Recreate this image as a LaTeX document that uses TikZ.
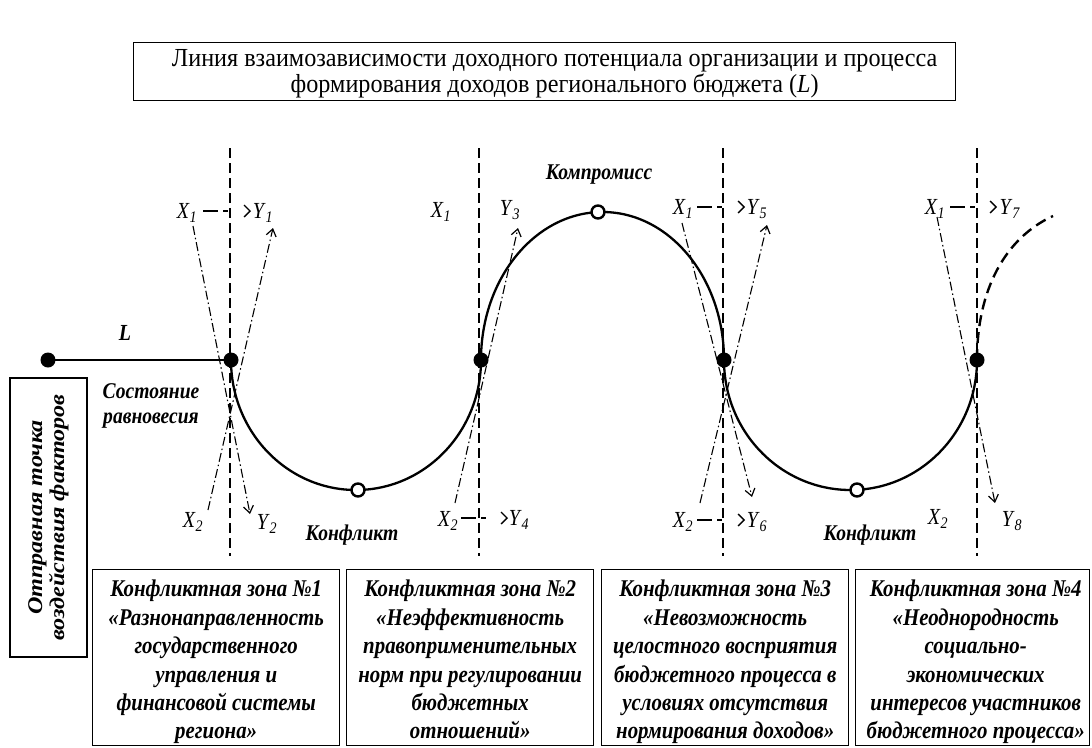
\documentclass[tikz,border=0pt]{standalone}
\usepackage{fontspec}
\setmainfont{Liberation Serif}
\newfontfamily\condf[FakeStretch=0.87]{Liberation Serif}
\newfontfamily\titlef[FakeStretch=0.93]{Liberation Serif}
\newfontfamily\widef[FakeStretch=1.15]{Liberation Serif}
\usetikzlibrary{arrows.meta}
\newcommand{\xl}[2]{\textit{#1}\textsubscript{\textit{#2}}}
\tikzset{
 vline/.style={line width=2.4pt, dash pattern=on 10pt off 5pt},
 curveline/.style={line width=2.3pt},
 contline/.style={line width=2.4pt, dash pattern=on 11pt off 6pt},
 ddline/.style={line width=1.1pt, dash pattern=on 9pt off 3pt on 1.5pt off 3pt, -{Straight Barb[length=7pt,width=10pt,line width=1.2pt]}},
 harrow/.style={line width=1.3pt, dash pattern=on 15pt off 5pt on 5pt off 40pt, -{Straight Barb[length=6pt,width=12pt,line width=1.3pt]}},
 lbl/.style={font=\condf\fontsize{23}{24}\selectfont, inner sep=0pt},
 blbl/.style={font=\condf\fontsize{22.5}{25}\selectfont\bfseries\itshape, inner sep=0pt, align=center},
 zone/.style={draw, line width=1.4pt, minimum width=247pt, minimum height=176pt, anchor=north west, inner sep=0pt},
 zonetext/.style={align=center, font=\condf\fontsize{24}{28.4}\selectfont\bfseries\itshape, inner sep=0pt, anchor=north, yshift=-11pt},
 dotf/.style={circle, fill=black, minimum size=15pt, inner sep=0pt},
 doto/.style={circle, draw, fill=white, line width=2.4pt, minimum size=13pt, inner sep=0pt},
}
\begin{document}
\begin{tikzpicture}[x=1pt,y=-1pt]
\useasboundingbox (0,0) rectangle (1092,747);
% title
\node[draw, line width=1.4pt, minimum width=822pt, minimum height=58pt, anchor=north west, inner sep=0pt] (title) at (133,42) {};
\node[align=center, inner sep=0pt, font=\titlef\fontsize{26}{23}\selectfont] (titletext) at ([xshift=10pt,yshift=-2pt]title.center)
 {Линия взаимозависимости доходного потенциала организации и процесса\\ формирования доходов регионального бюджета (\textit{L})};
% vertical dashed lines
\coordinate (v1t) at (230,148); \coordinate (v1b) at (230,556);
\coordinate (v2t) at (479,148); \coordinate (v2b) at (479,556);
\coordinate (v3t) at (723,148); \coordinate (v3b) at (723,556);
\coordinate (v4t) at (977,148); \coordinate (v4b) at (977,556);
\draw[vline] (v1t) -- (v1b);
\draw[vline] (v2t) -- (v2b);
\draw[vline] (v3t) -- (v3b);
\draw[vline] (v4t) -- (v4b);
% curve
\coordinate (p0) at (48,360);
\coordinate (p1) at (231,360);
\coordinate (p2) at (481,360);
\coordinate (p3) at (724,360);
\coordinate (p4) at (977,360);
\coordinate (pend) at (1053,216);
\draw[curveline] (p0) -- (p1);
\draw[curveline] (p1) arc[start angle=180, end angle=0, x radius=125, y radius=130];
\draw[curveline] (p2) arc[start angle=180, end angle=360, x radius=121.5, y radius=148];
\draw[curveline] (p3) arc[start angle=180, end angle=0, x radius=126.5, y radius=130];
\draw[contline] (p4) .. controls (977,290) and (1005,238) .. (pend);
% dots
\node[dotf] (d0) at (p0) {};
\node[dotf] (d1) at (p1) {};
\node[dotf] (d2) at (p2) {};
\node[dotf] (d3) at (p3) {};
\node[dotf] (d4) at (p4) {};
\node[doto] (c1) at (358,490) {};
\node[doto] (c2) at (598,212) {};
\node[doto] (c3) at (857,490) {};
% labels
\node[blbl, font=\condf\fontsize{23}{22}\selectfont\bfseries\itshape] (Lab) at (125,333) {L};
\node[blbl] (eq) at (151,406) {Состояние\\равновесия};
\node[blbl] (komp) at (599,175) {Компромисс};
\node[blbl] (konf1) at (352,535) {Конфликт};
\node[blbl] (konf2) at (870,535) {Конфликт};
% group 1
\node[lbl] (g1x1) at (187,213) {\xl{X}{1}};
\node[lbl] (g1y1) at (263,213) {\xl{Y}{1}};
\node[lbl] (g1x2) at (193,522) {\xl{X}{2}};
\node[lbl] (g1y2) at (267,524) {\xl{Y}{2}};
\coordinate (a1s) at (193,226); \coordinate (a1e) at (250,514);
\coordinate (b1s) at (208,510); \coordinate (b1e) at (273,228);
\coordinate (h1s) at (203,211); \coordinate (h1e) at (251,211);
\draw[ddline] (a1s) -- (a1e);
\draw[ddline] (b1s) -- (b1e);
\draw[harrow] (h1s) -- (h1e);
% group 2
\node[lbl] (g2x1) at (441,212) {\xl{X}{1}};
\node[lbl] (g2y3) at (510,210) {\xl{Y}{3}};
\node[lbl] (g2x2) at (448,521) {\xl{X}{2}};
\node[lbl] (g2y4) at (519,520) {\xl{Y}{4}};
\coordinate (b2s) at (455,503); \coordinate (b2e) at (518,228);
\coordinate (h2s) at (461,518); \coordinate (h2e) at (508,518);
\draw[ddline] (b2s) -- (b2e);
\draw[harrow] (h2s) -- (h2e);
% group 3
\node[lbl] (g3x1) at (683,209) {\xl{X}{1}};
\node[lbl] (g3y5) at (757,209) {\xl{Y}{5}};
\node[lbl] (g3x2) at (683,522) {\xl{X}{2}};
\node[lbl] (g3y6) at (757,522) {\xl{Y}{6}};
\coordinate (a3s) at (682,223); \coordinate (a3e) at (752,497);
\coordinate (b3s) at (700,503); \coordinate (b3e) at (767,225);
\coordinate (h3s) at (697,207); \coordinate (h3e) at (745,207);
\coordinate (k3s) at (697,520); \coordinate (k3e) at (745,520);
\draw[ddline] (a3s) -- (a3e);
\draw[ddline] (b3s) -- (b3e);
\draw[harrow] (h3s) -- (h3e);
\draw[harrow] (k3s) -- (k3e);
% group 4
\node[lbl] (g4x1) at (935,209) {\xl{X}{1}};
\node[lbl] (g4y7) at (1010,209) {\xl{Y}{7}};
\node[lbl] (g4x2) at (938,519) {\xl{X}{2}};
\node[lbl] (g4y8) at (1012,521) {\xl{Y}{8}};
\coordinate (a4s) at (937,217); \coordinate (a4e) at (995,503);
\coordinate (h4s) at (950,207); \coordinate (h4e) at (997,207);
\draw[ddline] (a4s) -- (a4e);
\draw[harrow] (h4s) -- (h4e);
% left box
\node[draw, line width=1.4pt, minimum width=279pt, minimum height=77pt, rotate=90, align=center, inner sep=0pt, font=\widef\fontsize{21}{22}\selectfont\bfseries\itshape] (start) at (48.5,517.5)
 {Отправная точка\\воздействия факторов};
% zone boxes
\node[zone] (z1) at (92,569) {};
\node[zone] (z2) at (346,569) {};
\node[zone] (z3) at (601,569) {};
\node[zone, minimum width=234pt] (z4) at (855,569) {};
\node[zonetext] (t1) at (z1.north) {Конфликтная зона №1\\«Разнонаправленность\\государственного\\управления и\\финансовой системы\\региона»};
\node[zonetext] (t2) at (z2.north) {Конфликтная зона №2\\«Неэффективность\\правоприменительных\\норм при регулировании\\бюджетных\\отношений»};
\node[zonetext] (t3) at (z3.north) {Конфликтная зона №3\\«Невозможность\\целостного восприятия\\бюджетного процесса в\\условиях отсутствия\\нормирования доходов»};
\node[zonetext] (t4) at ([xshift=3pt]z4.north) {Конфликтная зона №4\\«Неоднородность\\социально-\\экономических\\интересов участников\\бюджетного процесса»};
\end{tikzpicture}
\end{document}
